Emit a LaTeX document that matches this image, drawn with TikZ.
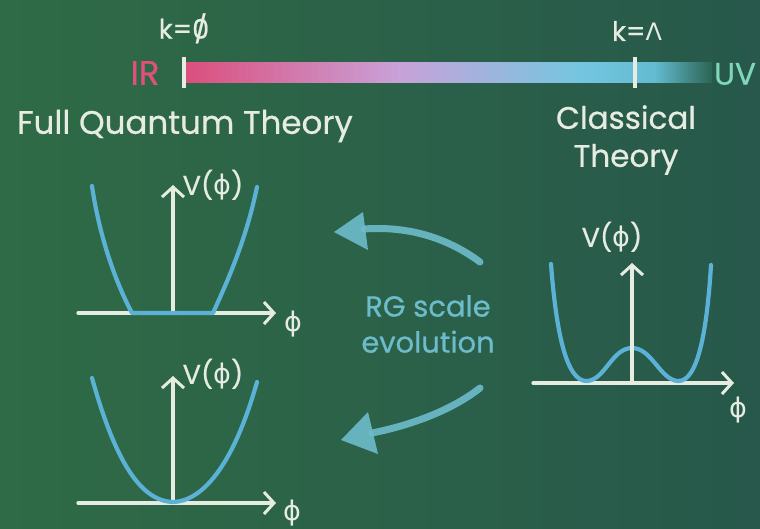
\documentclass[tikz,border=0pt]{standalone}
\usepackage{fontspec}
\setmainfont{Poppins}[FakeBold=0.6]
\newfontfamily\grk{DejaVu Sans}
\usetikzlibrary{arrows.meta}
\definecolor{boardL}{HTML}{2F6B46}
\definecolor{boardR}{HTML}{27584B}
\definecolor{chalk}{HTML}{E6ECE2}
\definecolor{cblue}{HTML}{5BB2D6}
\definecolor{rgblue}{HTML}{6DBCCB}
\definecolor{irpink}{HTML}{E0507C}
\definecolor{uvmint}{HTML}{7FD8BC}
\definecolor{barpink}{HTML}{DB4F7D}
\definecolor{barlav}{HTML}{C8A2D9}
\definecolor{barblue}{HTML}{74C6E0}
\definecolor{barend}{HTML}{2C6452}
\newcommand{\phis}{{\grk ϕ}}
\newcommand{\szero}{\ooalign{0\cr\hidewidth/\hidewidth\cr}}
\tikzset{
  axis/.style={draw=chalk, line width=3.2pt, line cap=round, -{Straight Barb[length=10pt,width=22pt,line width=3pt]}},
  pot/.style={draw=cblue, line width=4.2pt, line cap=round, line join=round},
  chalktext/.style={text=chalk, inner sep=0pt},
  rgarrow/.style={draw=rgblue, line width=7pt, line cap=round, opacity=0.9},
  rghead/.style={fill=rgblue, opacity=0.9},
  tick/.style={draw=chalk, line width=4pt}
}
\begin{document}
\begin{tikzpicture}[x=1pt,y=-1pt]
\useasboundingbox (0,0) rectangle (760,528);
\shade[left color=boardL, right color=boardR] (0,0) rectangle (760,528);

% scale bar
\shade[left color=barpink, right color=barlav] (186,62) rectangle (400,82);
\shade[left color=barlav, right color=barblue] (399.5,62) rectangle (580,82);
\shade[left color=barblue, right color=barblue!85!teal] (579.5,62) rectangle (655,82);
\shade[left color=barblue!85!teal, right color=barend] (654.5,62) rectangle (712,82);
\coordinate (t1a) at (184,57); \coordinate (t1b) at (184,88);
\coordinate (t2a) at (635,57); \coordinate (t2b) at (635,88);
\draw[tick] (t1a) -- (t1b);
\draw[tick] (t2a) -- (t2b);
\node[chalktext, font=\fontsize{27}{28}\selectfont] (k0) at (184,31) {k=\szero};
\node[chalktext, font=\fontsize{27}{28}\selectfont] (kL) at (637,31) {k={\grk\fontsize{24}{26}\selectfont Λ}};
\node[inner sep=0pt, text=irpink, font=\fontsize{34}{34}\selectfont] (IR) at (145,73) {IR};
\node[inner sep=0pt, text=uvmint, font=\fontsize{31}{32}\selectfont] (UV) at (735,74) {UV};

\node[chalktext, font=\fontsize{32.5}{34}\selectfont] (fqt) at (185,126) {Full Quantum Theory};
\node[chalktext, font=\fontsize{31}{38}\selectfont, align=center] (ct) at (626,140) {Classical\\Theory};

% top-left plot: flat potential
\coordinate (o1) at (173,313);
\coordinate (x1s) at (78,313); \coordinate (x1e) at (276,313);
\coordinate (y1e) at (173,185);
\draw[axis] (x1s) -- (x1e);
\draw[axis] (o1) -- (y1e);
\draw[pot] (92,186) .. controls (100,240) and (117,285) .. (132,313) -- (213,313) .. controls (228,280) and (246,240) .. (257,187);
\node[chalktext, font=\fontsize{27}{28}\selectfont] (v1) at (213,185) {V(\phis)};
\node[chalktext, font=\fontsize{27}{28}\selectfont] (p1) at (293,324) {\phis};

% bottom-left plot: parabola
\coordinate (o2) at (173,503);
\coordinate (x2s) at (78,503); \coordinate (x2e) at (276,503);
\coordinate (y2e) at (173,376);
\draw[axis] (x2s) -- (x2e);
\draw[axis] (o2) -- (y2e);
\draw[pot] (92,378) .. controls (115,460) and (140,501) .. (173,502) .. controls (205,501) and (235,460) .. (257,382);
\node[chalktext, font=\fontsize{27}{28}\selectfont] (v2) at (213,374) {V(\phis)};
\node[chalktext, font=\fontsize{27}{28}\selectfont] (p2) at (292,513) {\phis};

% right plot: double well
\coordinate (o3) at (632,383);
\coordinate (x3s) at (533,383); \coordinate (x3e) at (734,383);
\coordinate (y3e) at (632,263);
\draw[axis] (x3s) -- (x3e);
\draw[pot] (551,264) .. controls (556,330) and (566,382) .. (587,381)
  .. controls (605,380) and (612,348) .. (632,348)
  .. controls (652,348) and (660,380) .. (678,381)
  .. controls (698,382) and (707,330) .. (711,265);
\draw[axis] (o3) -- (y3e);
\node[chalktext, font=\fontsize{27}{28}\selectfont] (v3) at (612,237) {V(\phis)};
\node[chalktext, font=\fontsize{27}{28}\selectfont] (p3) at (738,410) {\phis};

% RG arrows
\coordinate (a1t) at (480,262); \coordinate (a1e) at (364,229);
\coordinate (a1tip) at (334,232); \coordinate (a1u) at (363,212); \coordinate (a1d) at (368,250);
\draw[rgarrow] (a1t) .. controls (445,236) and (405,226) .. (a1e);
\fill[rghead] (a1tip) -- (a1u) -- (a1d) -- cycle;
\coordinate (a2t) at (480,388); \coordinate (a2e) at (372,433);
\coordinate (a2tip) at (341,440); \coordinate (a2u) at (368,412); \coordinate (a2d) at (378,454);
\draw[rgarrow] (a2t) .. controls (452,410) and (412,425) .. (a2e);
\fill[rghead] (a2tip) -- (a2u) -- (a2d) -- cycle;

\node[inner sep=0pt, text=rgblue, font=\fontsize{29}{36}\selectfont, align=center] (rg) at (428,324) {RG scale\\evolution};
\end{tikzpicture}
\end{document}
